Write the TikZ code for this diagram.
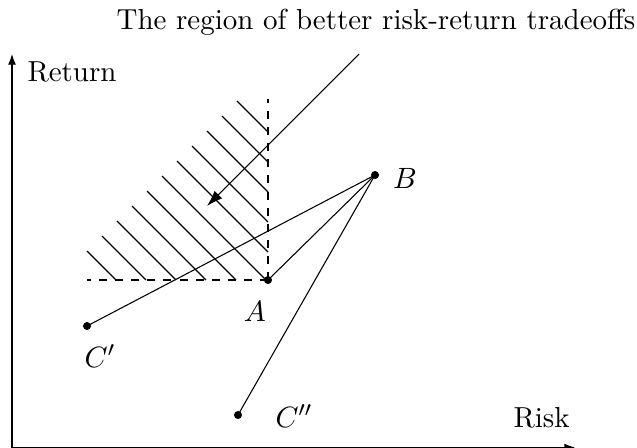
\documentclass[tikz,border=0pt]{standalone}
\usetikzlibrary{arrows.meta}
\begin{document}
\begin{tikzpicture}[x=0.373pt,y=-0.373pt,
  font=\fontsize{10.8}{13}\selectfont,
  dot/.style={circle,fill=black,inner sep=0pt,minimum size=3pt},
  lbl/.style={inner sep=0pt},
  hatch/.style={line width=0.45pt},
  guide/.style={dashed},
  axis/.style={-{Latex[length=4pt,width=3pt]}}]
\useasboundingbox (0,0) rectangle (637,447);
% axes
\coordinate (O) at (12,447.5);
\coordinate (Ytop) at (12,54);
\coordinate (Xend) at (575,447.5);
\draw[axis] (O) -- (Ytop);
\draw[axis] (O) -- (Xend);
% points
\node[dot] (A) at (268,280) {};
\node[dot] (B) at (375,175) {};
\node[dot] (C1) at (87,326) {};
\node[dot] (C2) at (238,415) {};
\coordinate (Vtop) at (268,99);
\coordinate (Hleft) at (87,280);
% dashed guides
\draw[guide] (A.center) -- (Vtop);
\draw[guide] (A.center) -- (Hleft);
% hatching
\foreach \k in {0,...,5}{
  \draw[hatch] (87+15*\k,251-15*\k) -- (116+30*\k,280);
}
\foreach \k in {6,...,10}{
  \draw[hatch] (87+15*\k,251-15*\k) -- (268,432-30*\k);
}
% connectors
\draw (A.center) -- (B.center);
\draw (B.center) -- (C1.center);
\draw (B.center) -- (C2.center);
% pointer arrow
\coordinate (Ps) at (359,54);
\coordinate (Pe) at (207,206);
\draw[-{Latex[length=6pt,width=4pt]}] (Ps) -- (Pe);
% labels
\node[lbl] (title) at (376,22) {The region of better risk-return tradeoffs};
\node[lbl,anchor=west] (ret) at (27,72) {Return};
\node[lbl,anchor=west] (risk) at (513,418) {Risk};
\node[lbl] (lA) at (255,311) {$A$};
\node[lbl] (lB) at (405,178) {$B$};
\node[lbl] (lC1) at (100,356) {$C'$};
\node[lbl] (lC2) at (294,416) {$C''$};
\end{tikzpicture}
\end{document}
